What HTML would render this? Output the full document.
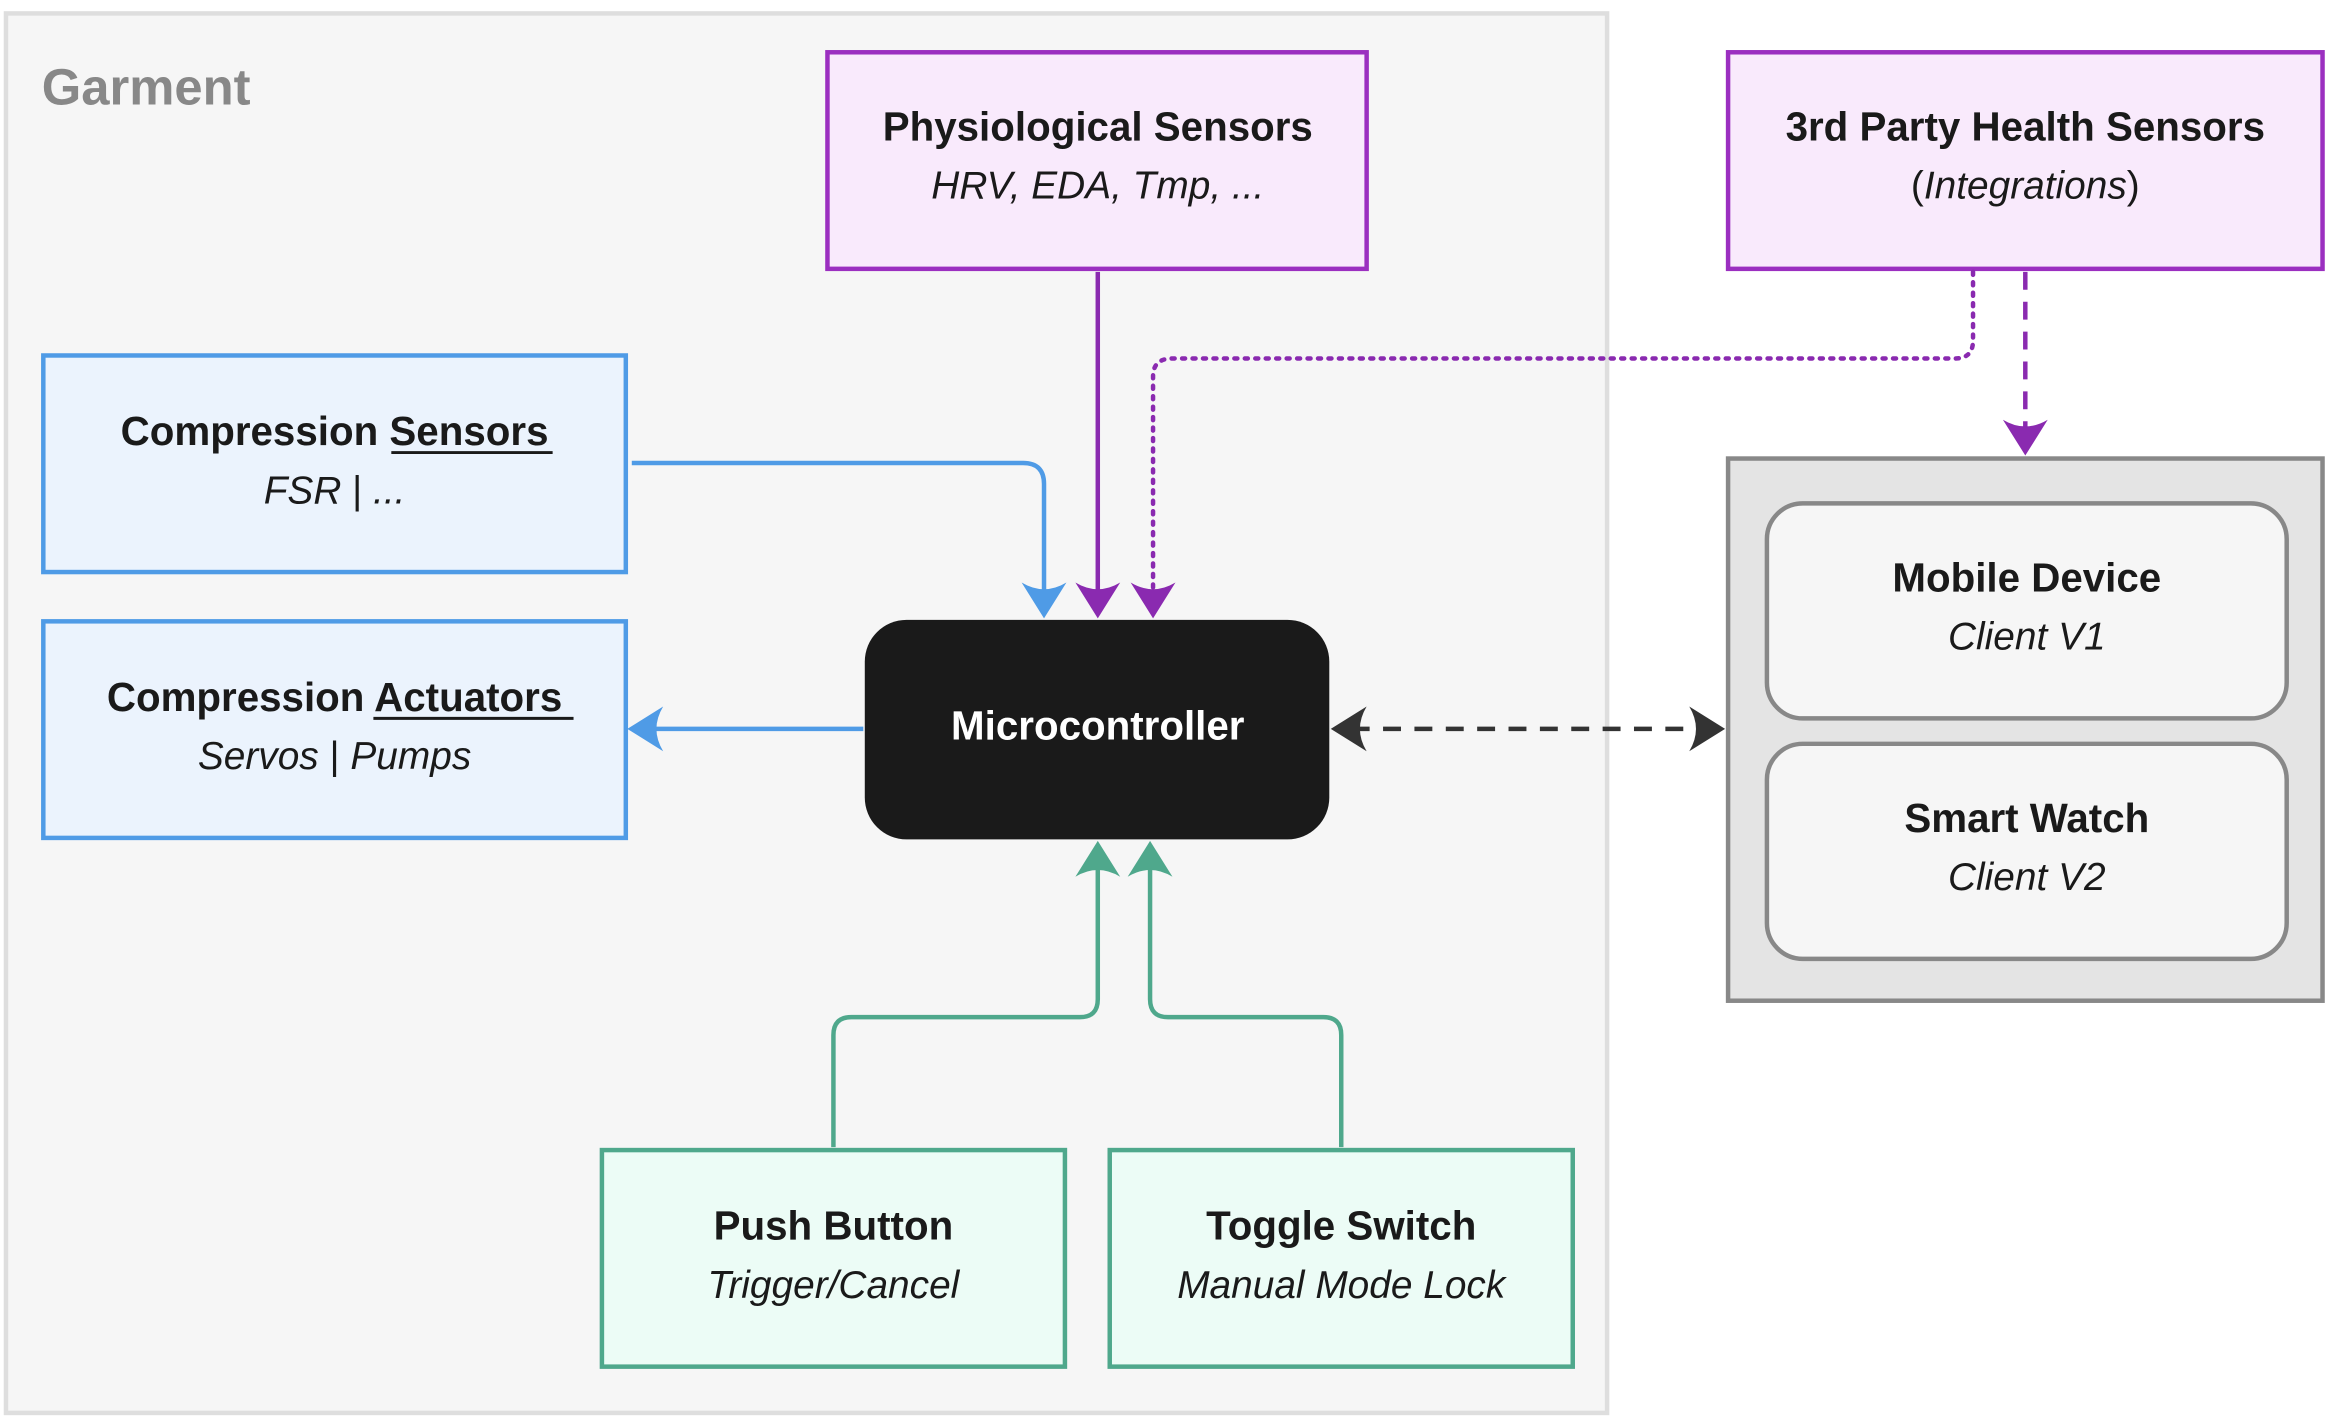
<!DOCTYPE html>
<html><head><meta charset="utf-8"><style>
html,body{margin:0;padding:0;background:#fff;}
svg{display:block}
text{font-family:"Liberation Sans",sans-serif;}
.t{font-weight:bold;font-size:27px;fill:#1a1a1a;text-anchor:middle}
.s{font-style:italic;font-size:26px;fill:#1a1a1a;text-anchor:middle}
</style></head><body>
<svg width="2330" height="1424" viewBox="0 0 1560 953.4" preserveAspectRatio="none" xmlns="http://www.w3.org/2000/svg">
<defs>
<path id="ah" d="M0,0 L-15,-24 Q0,-15 15,-24 Z"/>
</defs>
<rect x="4" y="9" width="1072" height="937" fill="#f6f6f6" stroke="#dedede" stroke-width="3"/>
<text x="28" y="70" font-size="34" font-weight="bold" fill="#888">Garment</text>

<rect x="554" y="35" width="361" height="145" fill="#f9eafc" stroke="#9b2fc0" stroke-width="3"/>
<text class="t" x="735" y="94">Physiological Sensors</text>
<text class="s" x="735" y="133">HRV, EDA, Tmp, ...</text>

<rect x="1157" y="35" width="398" height="145" fill="#f9eafc" stroke="#9b2fc0" stroke-width="3"/>
<text class="t" x="1356" y="94">3rd Party Health Sensors</text>
<text class="s" x="1356" y="133"><tspan font-style="normal">(</tspan>Integrations<tspan font-style="normal">)</tspan></text>

<rect x="29" y="238" width="390" height="145" fill="#ebf3fd" stroke="#4f9be6" stroke-width="3"/>
<text class="t" x="224" y="298">Compression Sensors</text>
<line x1="262" y1="303" x2="370" y2="303" stroke="#1a1a1a" stroke-width="2"/>
<text class="s" x="224" y="337">FSR <tspan font-style="normal">|</tspan> ...</text>

<rect x="29" y="416" width="390" height="145" fill="#ebf3fd" stroke="#4f9be6" stroke-width="3"/>
<text class="t" x="224" y="476">Compression Actuators</text>
<line x1="250" y1="481" x2="384" y2="481" stroke="#1a1a1a" stroke-width="2"/>
<text class="s" x="224" y="515">Servos <tspan font-style="normal">|</tspan> Pumps</text>

<rect x="579" y="415" width="311" height="147" rx="28" fill="#1a1a1a"/>
<text class="t" x="735" y="495" style="fill:#fff">Microcontroller</text>

<rect x="403" y="770" width="310" height="145" fill="#ecfcf6" stroke="#4fa88c" stroke-width="3"/>
<text class="t" x="558" y="830">Push Button</text>
<text class="s" x="558" y="869">Trigger/Cancel</text>
<rect x="743" y="770" width="310" height="145" fill="#ecfcf6" stroke="#4fa88c" stroke-width="3"/>
<text class="t" x="898" y="830">Toggle Switch</text>
<text class="s" x="898" y="869">Manual Mode Lock</text>

<rect x="1157" y="307" width="398" height="363" fill="#e4e4e4" stroke="#888" stroke-width="3"/>
<rect x="1183" y="337" width="348" height="144" rx="24" fill="#f6f6f6" stroke="#888" stroke-width="3"/>
<text class="t" x="1357" y="396">Mobile Device</text>
<text class="s" x="1357" y="435">Client V1</text>
<rect x="1183" y="498" width="348" height="144" rx="24" fill="#f6f6f6" stroke="#888" stroke-width="3"/>
<text class="t" x="1357" y="557">Smart Watch</text>
<text class="s" x="1357" y="596">Client V2</text>

<!-- blue -->
<path d="M423,310 H685 Q699,310 699,324 V400" fill="none" stroke="#4f9be6" stroke-width="3"/>
<use href="#ah" transform="translate(699,414)" fill="#4f9be6"/>
<path d="M578,488 H432" fill="none" stroke="#4f9be6" stroke-width="3"/>
<use href="#ah" transform="translate(420,488) rotate(90)" fill="#4f9be6"/>
<!-- purple -->
<path d="M735,182 V400" fill="none" stroke="#8a2ab0" stroke-width="3"/>
<use href="#ah" transform="translate(735,414)" fill="#8a2ab0"/>
<path d="M1321,182 V228 Q1321,240 1309,240 H785 Q772,240 772,252 V398" fill="none" stroke="#8a2ab0" stroke-width="3" stroke-dasharray="2 5" stroke-linecap="round"/>
<use href="#ah" transform="translate(772,414)" fill="#8a2ab0"/>
<path d="M1356,182 V292" fill="none" stroke="#8a2ab0" stroke-width="3" stroke-dasharray="12 8"/>
<use href="#ah" transform="translate(1356,305)" fill="#8a2ab0"/>
<!-- black dashed -->
<path d="M905,488 H1142" fill="none" stroke="#333" stroke-width="3" stroke-dasharray="12 9"/>
<use href="#ah" transform="translate(891,488) rotate(90)" fill="#333"/>
<use href="#ah" transform="translate(1155,488) rotate(-90)" fill="#333"/>
<!-- green -->
<path d="M558,768 V693 Q558,681 570,681 H723 Q735,681 735,669 V578" fill="none" stroke="#4fa88c" stroke-width="3"/>
<use href="#ah" transform="translate(735,563) rotate(180)" fill="#4fa88c"/>
<path d="M898,768 V693 Q898,681 886,681 H782 Q770,681 770,669 V578" fill="none" stroke="#4fa88c" stroke-width="3"/>
<use href="#ah" transform="translate(770,563) rotate(180)" fill="#4fa88c"/>
</svg>
</body></html>
